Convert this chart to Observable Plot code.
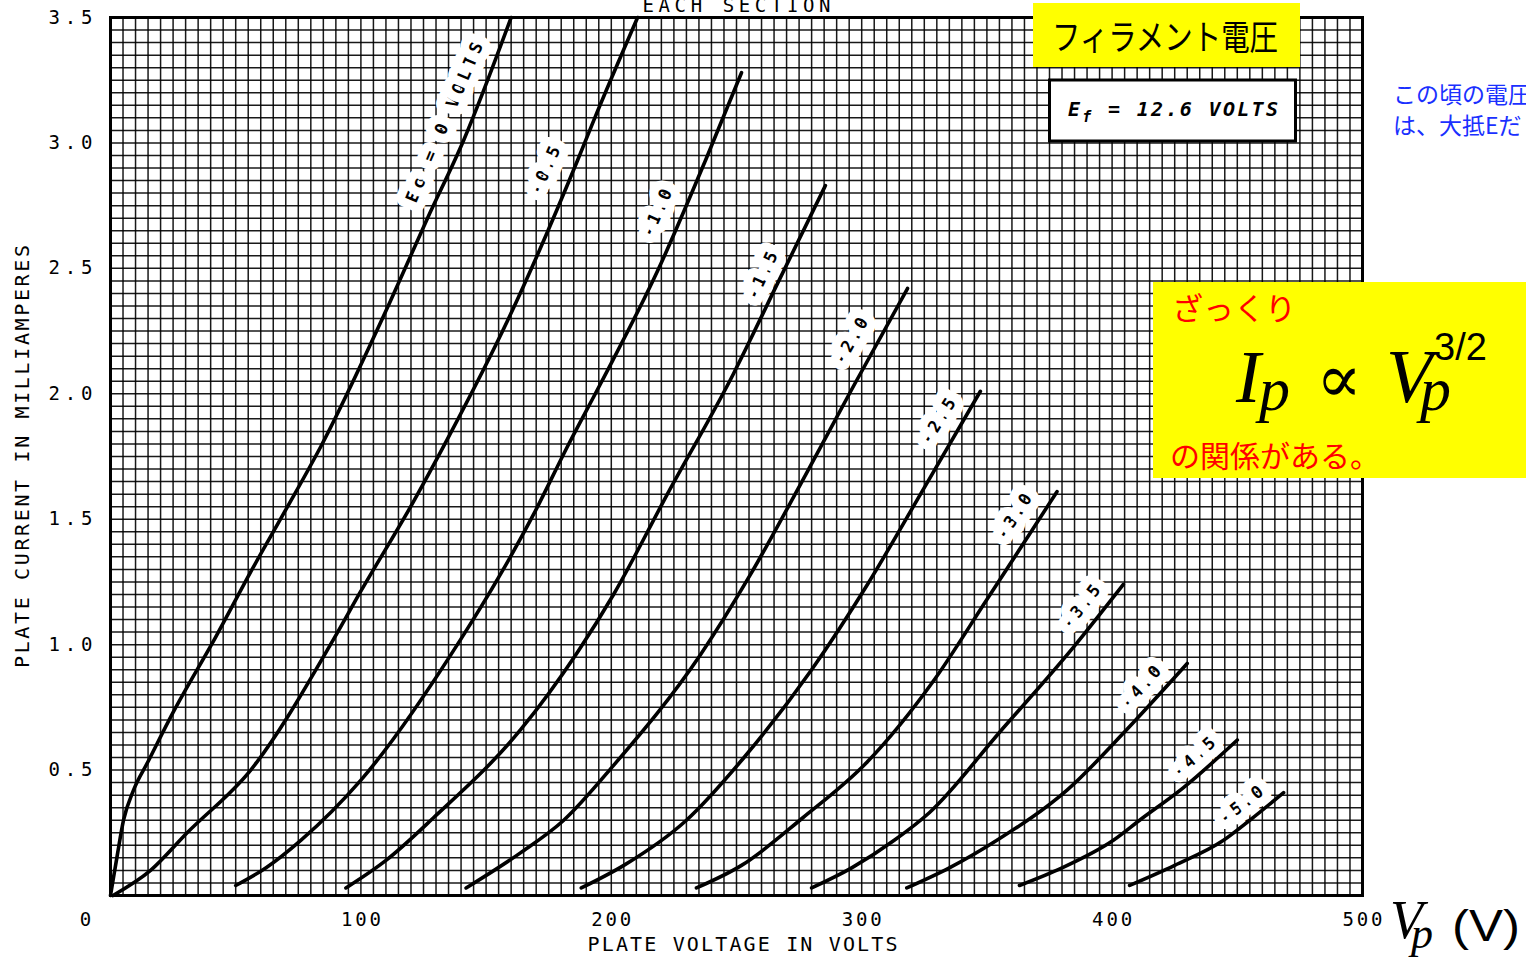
<!DOCTYPE html>
<html><head><meta charset="utf-8">
<script src="https://cdn.jsdelivr.net/npm/d3@7"></script>
<script src="https://cdn.jsdelivr.net/npm/@observablehq/plot@0.6"></script>
<style>
html,body{margin:0;padding:0;background:#fff;}
svg{display:block}
</style></head><body>
<script>
// ---- data ----
const xTicks = [100, 200, 300, 400, 500];
const yTicks = [0.5, 1.0, 1.5, 2.0, 2.5, 3.0, 3.5];
const gridVolts = d3.range(0, 501, 5);
const gridMilliamps = d3.range(0, 71).map(k => k * 0.05);

const gridBias = ["0", "-0.5", "-1.0", "-1.5", "-2.0", "-2.5", "-3.0", "-3.5", "-4.0", "-4.5", "-5.0"];

const curveEg00 = [[0,0],[1,0.06],[2.7,0.16],[5.2,0.30],[9.2,0.42],[14.8,0.53],[25,0.73],[42,1.03],[56,1.29],[69,1.52],[84,1.79],[111.8,2.37],[126.6,2.70],[141,3.01],[160,3.5]];
const curveEg05 = [[1,0],[16,0.10],[30.6,0.25],[56,0.50],[89,1.02],[99.8,1.21],[121,1.57],[134.6,1.82],[158.5,2.29],[186.5,2.93],[193,3.09],[210.5,3.5]];
const curveEg10 = [[50,0.04],[62,0.11],[76,0.22],[100,0.46],[139.8,1.02],[155.7,1.28],[169,1.52],[182.5,1.79],[195.7,2.04],[218.5,2.49],[237.6,2.93],[252,3.28]];
const curveEg15 = [[94,0.03],[110,0.14],[129,0.31],[163.7,0.66],[186.5,0.97],[200.9,1.20],[222.4,1.60],[248.8,2.08],[266.4,2.44],[285.5,2.83]];
const curveEg20 = [[142,0.03],[163.7,0.17],[181,0.30],[201,0.52],[235.6,0.96],[255.6,1.28],[275.6,1.64],[296.7,2.03],[318.3,2.42]];
const curveEg25 = [[188,0.03],[205,0.12],[230,0.30],[253,0.55],[280,0.90],[302.3,1.24],[323.5,1.60],[347.4,2.01]];
const curveEg30 = [[234,0.03],[252,0.12],[276.5,0.31],[302,0.53],[329,0.86],[350,1.18],[367,1.44],[378,1.61]];
const curveEg35 = [[280,0.03],[296,0.11],[313,0.22],[327,0.33],[355,0.65],[384.6,0.99],[404.5,1.24]];
const curveEg40 = [[318,0.03],[335,0.11],[354,0.22],[382,0.42],[408.5,0.69],[430,0.925]];
const curveEg45 = [[363,0.04],[380,0.11],[400.5,0.22],[411,0.30],[428.5,0.43],[450,0.62]];
const curveEg50 = [[407,0.04],[425,0.12],[444.5,0.22],[455,0.30],[468.5,0.41]];

const curveLabels = ["Ec = 0 VOLTS", "-0.5", "-1.0", "-1.5", "-2.0", "-2.5", "-3.0", "-3.5", "-4.0", "-4.5", "-5.0"];
const labelVolts = [135.8, 176.1, 220.8, 262.8, 298.3, 333.1, 363.4, 390.2, 414.1, 435.3, 454.1];
const labelMilliamps = [3.07, 2.88, 2.71, 2.46, 2.20, 1.88, 1.50, 1.14, 0.82, 0.54, 0.35];
const labelAngles = [67, 66, 66, 65, 60, 58, 57, 52, 48, 42, 38];

// ---- tables built from the arrays ----
const allCurves = [curveEg00, curveEg05, curveEg10, curveEg15, curveEg20, curveEg25, curveEg30, curveEg35, curveEg40, curveEg45, curveEg50];
const curveRows = allCurves.flatMap((pts, k) => pts.map(([v, i]) => ({bias: gridBias[k], v, i})));
const labelRows = curveLabels.map((t, k) => ({text: t, v: labelVolts[k], i: labelMilliamps[k], a: -labelAngles[k]}));

const mono = "DejaVu Sans Mono";

const chart = Plot.plot({
  width: 1526,
  height: 960,
  marginLeft: 110,
  marginRight: 164,
  marginTop: 17,
  marginBottom: 65,
  x: {domain: [0, 500]},
  y: {domain: [0, 3.5]},
  marks: [
    Plot.ruleX(gridVolts, {stroke: "#000", strokeWidth: 1.5, strokeOpacity: 0.9}),
    Plot.ruleY(gridMilliamps, {stroke: "#000", strokeWidth: 1.5, strokeOpacity: 0.9}),
    Plot.frame({stroke: "#000", strokeWidth: 3}),
    Plot.text(labelRows, {x: "v", y: "i", text: "text", rotate: "a", dx: -6, dy: -3, fontFamily: mono, fontSize: 17, fontWeight: "bold",
      fill: "#000", stroke: "#fff", strokeWidth: 18, strokeLinejoin: "round"}),
    Plot.line(curveRows, {x: "v", y: "i", z: "bias", curve: "monotone-x", stroke: "#000", strokeWidth: 3.6}),
    Plot.axisX(xTicks, {tickSize: 0, tickPadding: 17, fontFamily: mono, fontSize: 19, label: null}),
    Plot.axisY(yTicks, {tickSize: 0, tickPadding: 18, fontFamily: mono, fontSize: 19, label: null, tickFormat: d => d.toFixed(1)}),
    Plot.text([0], {x: d => d, frameAnchor: "bottom", dx: -25, dy: 17, lineAnchor: "top", text: () => "0",
      fontFamily: mono, fontSize: 19}),
    Plot.text(["PLATE VOLTAGE IN VOLTS"], {frameAnchor: "bottom", dx: 6, dy: 55, fontFamily: mono, fontSize: 20}),
    Plot.text(["PLATE CURRENT IN MILLIAMPERES"], {frameAnchor: "left", textAnchor: "middle", dx: -88, rotate: -90, fontFamily: mono, fontSize: 20}),
    Plot.text(["EACH SECTION"], {frameAnchor: "top", dy: -6, lineAnchor: "bottom", fontFamily: mono, fontSize: 19})
  ]
});
document.body.appendChild(chart);

const svg = d3.select(chart);

// stretch the lettered texts to the widths they have in the picture
const textWidths = new Map([
  ["PLATE VOLTAGE IN VOLTS", 310], ["PLATE CURRENT IN MILLIAMPERES", 423], ["EACH SECTION", 188],
  ["Ec = 0 VOLTS", 172], ["100", 40], ["200", 40], ["300", 40], ["400", 40], ["500", 40],
  ["0.5", 44], ["1.0", 44], ["1.5", 44], ["2.0", 44], ["2.5", 44], ["3.0", 44], ["3.5", 44]
]);
svg.selectAll("text").each(function () {
  const s = this.textContent;
  if (textWidths.has(s)) d3.select(this).attr("textLength", textWidths.get(s));
  else if (/^-\d\.\d$/.test(s)) d3.select(this).attr("textLength", 50);
});

// ---- Japanese annotations overlaid on the chart ----
const ann = svg.append("g").attr("aria-label", "annotations").attr("text-anchor", "start");
const cjk = "Noto Sans CJK JP";
const serif = "Liberation Serif";

ann.append("rect").attr("x", 1033).attr("y", 3).attr("width", 267).attr("height", 64).attr("fill", "#ffff00");
ann.append("text").attr("x", 1052).attr("y", 50).attr("font-family", cjk).attr("font-size", 35)
  .attr("textLength", 226).attr("lengthAdjust", "spacingAndGlyphs").attr("fill", "#000").text("フィラメント電圧");

ann.append("rect").attr("x", 1049.5).attr("y", 80).attr("width", 246).attr("height", 61)
  .attr("fill", "#fff").attr("stroke", "#000").attr("stroke-width", 3);
const ef = ann.append("text").attr("x", 1068).attr("y", 116).attr("font-family", mono).attr("font-style", "italic")
  .attr("font-weight", "bold").attr("font-size", 20).attr("fill", "#000").attr("textLength", 210);
ef.append("tspan").text("E");
ef.append("tspan").attr("dy", 6).attr("font-size", 15).text("f");
ef.append("tspan").attr("dy", -6).text(" = 12.6 VOLTS");

ann.append("text").attr("x", 1393).attr("y", 103).attr("font-family", cjk).attr("font-size", 23).attr("fill", "#1a30ff").text("この頃の電圧");
ann.append("text").attr("x", 1393).attr("y", 134).attr("font-family", cjk).attr("font-size", 23).attr("fill", "#1a30ff").text("は、大抵Eだ");

ann.append("rect").attr("x", 1153).attr("y", 282).attr("width", 373).attr("height", 196).attr("fill", "#ffff00");
ann.append("text").attr("x", 1172).attr("y", 320).attr("font-family", cjk).attr("font-size", 31).attr("fill", "#ff0000").text("ざっくり");
ann.append("text").attr("x", 1170).attr("y", 467).attr("font-family", cjk).attr("font-size", 30).attr("fill", "#ff0000").text("の関係がある。");
ann.append("text").attr("x", 1236).attr("y", 402).attr("font-family", serif).attr("font-style", "italic").attr("font-size", 74).text("I");
ann.append("text").attr("x", 1259).attr("y", 410).attr("font-family", serif).attr("font-style", "italic").attr("font-size", 62).text("p");
ann.append("text").attr("x", 1316).attr("y", 402).attr("font-family", "DejaVu Serif").attr("font-size", 68).text("∝");
ann.append("text").attr("x", 1386).attr("y", 402).attr("font-family", serif).attr("font-style", "italic").attr("font-size", 76).text("V");
ann.append("text").attr("x", 1420).attr("y", 410).attr("font-family", serif).attr("font-style", "italic").attr("font-size", 62).text("p");
ann.append("text").attr("x", 1434).attr("y", 360).attr("font-family", "Liberation Sans").attr("font-size", 38).text("3/2");

ann.append("text").attr("x", 1390).attr("y", 938).attr("font-family", serif).attr("font-style", "italic").attr("font-size", 54).text("V");
ann.append("text").attr("x", 1411).attr("y", 948).attr("font-family", serif).attr("font-style", "italic").attr("font-size", 44).text("p");
ann.append("text").attr("x", 1452).attr("y", 941).attr("font-family", "Liberation Sans").attr("font-size", 44)
  .attr("textLength", 68).attr("lengthAdjust", "spacingAndGlyphs").text("(V)");
</script>
</body></html>
